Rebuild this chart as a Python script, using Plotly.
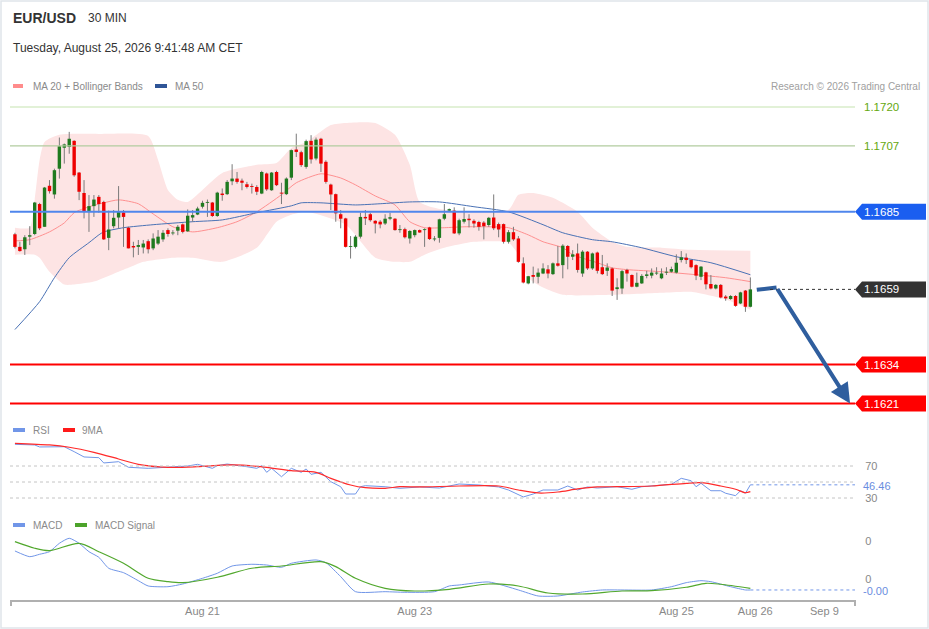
import plotly.graph_objects as go

# ============================================================
# Data (30 min candles)
# ============================================================
open_ = [
    1.16775, 1.16733, 1.16725, 1.16767, 1.16776, 1.16876, 1.16800, 1.16937, 1.16908, 1.16994,
    1.17064, 1.17067, 1.17087, 1.16981, 1.16913, 1.16853, 1.16869, 1.16900, 1.16883, 1.16763,
    1.16802, 1.16831, 1.16848, 1.16797, 1.16736, 1.16733, 1.16731, 1.16752, 1.16728, 1.16744,
    1.16758, 1.16789, 1.16778, 1.16787, 1.16808, 1.16785, 1.16831, 1.16841, 1.16867, 1.16880,
    1.16881, 1.16836, 1.16911, 1.16909, 1.16952, 1.16961, 1.16954, 1.16942, 1.16936, 1.16933,
    1.16911, 1.16978, 1.16922, 1.16983, 1.16914, 1.16909, 1.16964, 1.17058, 1.17049, 1.17000,
    1.17087, 1.17028, 1.17094, 1.17017, 1.16941, 1.16909, 1.16842, 1.16828, 1.16733, 1.16733,
    1.16767, 1.16833, 1.16842, 1.16820, 1.16817, 1.16811, 1.16827, 1.16827, 1.16789, 1.16792,
    1.16761, 1.16772, 1.16789, 1.16789, 1.16798, 1.16758, 1.16763, 1.16827, 1.16854, 1.16854,
    1.16778, 1.16817, 1.16827, 1.16820, 1.16816, 1.16814, 1.16806, 1.16831, 1.16809, 1.16809,
    1.16750, 1.16782, 1.16761, 1.16678, 1.16611, 1.16639, 1.16633, 1.16644, 1.16658, 1.16642,
    1.16678, 1.16672, 1.16736, 1.16700, 1.16711, 1.16644, 1.16717, 1.16661, 1.16714, 1.16665,
    1.16653, 1.16661, 1.16592, 1.16594, 1.16656, 1.16639, 1.16600, 1.16611, 1.16636, 1.16637,
    1.16644, 1.16628, 1.16647, 1.16650, 1.16647, 1.16689, 1.16697, 1.16689, 1.16672, 1.16633,
    1.16648, 1.16609, 1.16594, 1.16606, 1.16567, 1.16559, 1.16569, 1.16544, 1.16587, 1.16533,
]
high = [
    1.16780, 1.16750, 1.16772, 1.16802, 1.16883, 1.16880, 1.16933, 1.16956, 1.16994, 1.17098,
    1.17078, 1.17117, 1.17089, 1.16983, 1.16956, 1.16906, 1.16906, 1.16906, 1.16887, 1.16854,
    1.16856, 1.16936, 1.16856, 1.16800, 1.16750, 1.16756, 1.16756, 1.16758, 1.16778, 1.16789,
    1.16789, 1.16795, 1.16789, 1.16806, 1.16811, 1.16858, 1.16856, 1.16867, 1.16887, 1.16891,
    1.16883, 1.16917, 1.16928, 1.16956, 1.17009, 1.16983, 1.16961, 1.16950, 1.16944, 1.16939,
    1.16987, 1.16981, 1.16983, 1.16987, 1.16947, 1.16965, 1.17058, 1.17111, 1.17054, 1.17091,
    1.17106, 1.17098, 1.17097, 1.17022, 1.16944, 1.16911, 1.16856, 1.16830, 1.16769, 1.16772,
    1.16847, 1.16856, 1.16847, 1.16822, 1.16822, 1.16842, 1.16847, 1.16829, 1.16806, 1.16797,
    1.16789, 1.16791, 1.16791, 1.16795, 1.16800, 1.16769, 1.16827, 1.16876, 1.16861, 1.16865,
    1.16827, 1.16865, 1.16842, 1.16825, 1.16820, 1.16819, 1.16833, 1.16908, 1.16814, 1.16811,
    1.16789, 1.16800, 1.16769, 1.16698, 1.16636, 1.16667, 1.16661, 1.16678, 1.16672, 1.16681,
    1.16736, 1.16742, 1.16739, 1.16722, 1.16744, 1.16722, 1.16719, 1.16714, 1.16717, 1.16706,
    1.16678, 1.16664, 1.16628, 1.16656, 1.16660, 1.16641, 1.16647, 1.16642, 1.16653, 1.16661,
    1.16665, 1.16661, 1.16665, 1.16667, 1.16708, 1.16719, 1.16711, 1.16691, 1.16675, 1.16669,
    1.16650, 1.16639, 1.16609, 1.16609, 1.16572, 1.16572, 1.16572, 1.16583, 1.16589, 1.16631,
]
low = [
    1.16728, 1.16717, 1.16706, 1.16739, 1.16772, 1.16789, 1.16800, 1.16911, 1.16894, 1.16961,
    1.17011, 1.17044, 1.16967, 1.16889, 1.16828, 1.16783, 1.16833, 1.16847, 1.16756, 1.16722,
    1.16795, 1.16795, 1.16733, 1.16728, 1.16698, 1.16706, 1.16711, 1.16711, 1.16722, 1.16739,
    1.16750, 1.16767, 1.16772, 1.16772, 1.16778, 1.16783, 1.16817, 1.16839, 1.16861, 1.16833,
    1.16833, 1.16833, 1.16887, 1.16906, 1.16939, 1.16944, 1.16922, 1.16928, 1.16911, 1.16906,
    1.16909, 1.16920, 1.16920, 1.16936, 1.16876, 1.16906, 1.16956, 1.17033, 1.17000, 1.16994,
    1.17011, 1.17022, 1.16983, 1.16944, 1.16856, 1.16817, 1.16795, 1.16731, 1.16694, 1.16728,
    1.16761, 1.16806, 1.16817, 1.16778, 1.16795, 1.16806, 1.16822, 1.16787, 1.16780, 1.16761,
    1.16744, 1.16765, 1.16780, 1.16733, 1.16756, 1.16752, 1.16747, 1.16822, 1.16850, 1.16776,
    1.16772, 1.16811, 1.16798, 1.16797, 1.16787, 1.16758, 1.16800, 1.16789, 1.16765, 1.16744,
    1.16744, 1.16753, 1.16680, 1.16611, 1.16608, 1.16611, 1.16611, 1.16642, 1.16628, 1.16639,
    1.16667, 1.16628, 1.16658, 1.16689, 1.16647, 1.16633, 1.16656, 1.16656, 1.16644, 1.16639,
    1.16636, 1.16569, 1.16556, 1.16576, 1.16617, 1.16598, 1.16598, 1.16609, 1.16628, 1.16628,
    1.16639, 1.16625, 1.16639, 1.16647, 1.16644, 1.16681, 1.16676, 1.16661, 1.16622, 1.16622,
    1.16591, 1.16591, 1.16591, 1.16561, 1.16553, 1.16556, 1.16533, 1.16542, 1.16516, 1.16531,
]
close = [
    1.16733, 1.16719, 1.16765, 1.16772, 1.16881, 1.16795, 1.16931, 1.16919, 1.16989, 1.17069,
    1.17075, 1.17094, 1.16972, 1.16917, 1.16850, 1.16869, 1.16891, 1.16876, 1.16758, 1.16791,
    1.16830, 1.16849, 1.16833, 1.16728, 1.16731, 1.16739, 1.16744, 1.16725, 1.16761, 1.16767,
    1.16780, 1.16776, 1.16781, 1.16800, 1.16783, 1.16837, 1.16839, 1.16861, 1.16880, 1.16883,
    1.16836, 1.16914, 1.16906, 1.16950, 1.16961, 1.16950, 1.16947, 1.16933, 1.16933, 1.16917,
    1.16983, 1.16925, 1.16981, 1.16939, 1.16911, 1.16961, 1.17056, 1.17050, 1.17006, 1.17086,
    1.17025, 1.17091, 1.17011, 1.16950, 1.16908, 1.16845, 1.16827, 1.16733, 1.16736, 1.16767,
    1.16833, 1.16828, 1.16822, 1.16811, 1.16808, 1.16827, 1.16832, 1.16789, 1.16792, 1.16765,
    1.16786, 1.16789, 1.16781, 1.16792, 1.16759, 1.16761, 1.16825, 1.16842, 1.16859, 1.16778,
    1.16822, 1.16826, 1.16822, 1.16811, 1.16800, 1.16802, 1.16830, 1.16795, 1.16791, 1.16750,
    1.16782, 1.16758, 1.16683, 1.16614, 1.16635, 1.16633, 1.16647, 1.16661, 1.16644, 1.16678,
    1.16670, 1.16737, 1.16700, 1.16708, 1.16656, 1.16717, 1.16661, 1.16711, 1.16653, 1.16642,
    1.16664, 1.16587, 1.16598, 1.16652, 1.16644, 1.16600, 1.16613, 1.16636, 1.16641, 1.16647,
    1.16647, 1.16644, 1.16650, 1.16659, 1.16680, 1.16698, 1.16689, 1.16665, 1.16637, 1.16667,
    1.16608, 1.16594, 1.16606, 1.16564, 1.16561, 1.16569, 1.16536, 1.16581, 1.16533, 1.16591,
]
idx = list(range(len(close)))

# Bollinger bands / moving averages (sampled at candle index)
bb_up_x = [0, 3, 4, 5, 6, 9, 17, 27, 29, 31, 33, 35, 42, 49, 53, 56, 59, 64, 67, 73,
           77, 80, 82, 87, 100, 102, 105, 109, 111, 114, 117, 121, 124, 131, 137, 149]
bb_up = [1.16797, 1.16797, 1.16890, 1.17023, 1.17083, 1.17107, 1.17110, 1.17103, 1.17023, 1.16923,
         1.16890, 1.16883, 1.16980, 1.17007, 1.17013, 1.17063, 1.17083, 1.17140, 1.17147, 1.17147,
         1.17107, 1.17007, 1.16883, 1.16857, 1.16857, 1.16907, 1.16913, 1.16897, 1.16880, 1.16850,
         1.16797, 1.16750, 1.16733, 1.16730, 1.16723, 1.16720]
bb_lo_x = [0, 4, 5, 7, 10, 12, 16, 21, 23, 26, 32, 36, 42, 49, 53, 56, 59, 67, 73, 77,
           80, 83, 87, 93, 100, 102, 104, 107, 111, 121, 131, 137, 144, 149]
bb_lo = [1.16707, 1.16707, 1.16697, 1.16650, 1.16607, 1.16607, 1.16617, 1.16650, 1.16663, 1.16683,
         1.16697, 1.16697, 1.16683, 1.16730, 1.16817, 1.16840, 1.16850, 1.16807, 1.16697, 1.16683,
         1.16683, 1.16707, 1.16730, 1.16750, 1.16747, 1.16707, 1.16630, 1.16597, 1.16573, 1.16573,
         1.16580, 1.16583, 1.16557, 1.16523]
ma20_x = [0, 3, 7, 10, 12, 15, 18, 21, 25, 28, 32, 36, 41, 45, 49, 54, 57, 62, 66, 69,
          73, 77, 80, 83, 87, 91, 96, 100, 104, 107, 111, 113, 118, 121, 124, 131, 138, 144, 149]
ma20 = [1.16753, 1.16757, 1.16783, 1.16813, 1.16847, 1.16867, 1.16880, 1.16890, 1.16877, 1.16843,
        1.16800, 1.16783, 1.16797, 1.16817, 1.16850, 1.16907, 1.16947, 1.16977, 1.16963, 1.16940,
        1.16903, 1.16873, 1.16817, 1.16797, 1.16797, 1.16800, 1.16800, 1.16797, 1.16773, 1.16750,
        1.16730, 1.16707, 1.16680, 1.16663, 1.16657, 1.16650, 1.16640, 1.16630, 1.16617]
ma50_x = [0, 5, 8, 11, 15, 17, 18, 22, 28, 36, 42, 49, 56, 58, 62, 69, 74, 80, 86, 93,
          100, 107, 111, 117, 121, 127, 134, 141, 149]
ma50 = [1.16457, 1.16550, 1.16630, 1.16697, 1.16747, 1.16773, 1.16783, 1.16797, 1.16807, 1.16817,
        1.16823, 1.16847, 1.16870, 1.16880, 1.16880, 1.16873, 1.16877, 1.16883, 1.16883, 1.16867,
        1.16850, 1.16807, 1.16780, 1.16757, 1.16750, 1.16730, 1.16700, 1.16680, 1.16640]

# RSI + 9MA
rsi_x = [0, 4, 5, 10, 12, 14, 17, 18, 21, 23, 27, 31, 35, 37, 40, 41, 43, 47, 49, 50,
         51, 52, 54, 56, 58, 59, 60, 62, 64, 66, 67, 69, 70, 71, 75, 78, 82, 86, 90, 94,
         98, 100, 103, 105, 107, 110, 112, 114, 116, 118, 122, 125, 127, 133, 135, 137, 138, 139, 141, 143,
         144, 146, 147, 148, 149]
rsi = [97.1, 96.3, 93.8, 94.1, 87.9, 81.3, 80.4, 73.8, 75.4, 68.4, 67.1, 68.4, 70.0, 72.1, 67.1, 70.4, 72.5, 69.1, 67.1, 70.4,
       62.1, 67.1, 56.6, 67.1, 62.1, 66.3, 59.6, 62.1, 50.4, 44.1, 35.0, 35.0, 44.1, 45.4, 44.1, 42.1, 43.8, 42.5, 47.5, 46.3,
       43.8, 40.0, 31.3, 35.0, 40.0, 40.0, 45.0, 40.0, 43.8, 42.5, 44.1, 40.9, 44.1, 47.1, 54.6, 51.6, 44.1, 48.4, 39.1, 39.1,
       35.9, 32.9, 39.1, 35.9, 46.46]
rsi_ma_x = [0, 7, 11, 16, 21, 25, 31, 37, 44, 51, 56, 61, 64, 68, 71, 75, 78, 82, 90, 98,
            102, 106, 110, 114, 118, 122, 129, 136, 139, 143, 146, 148, 149]
rsi_ma = [98.4, 96.3, 93.4, 87.1, 78.8, 72.1, 68.4, 69.1, 71.3, 68.4, 64.1, 62.1, 54.6, 46.3, 42.9, 42.1, 44.1, 43.8, 45.0, 45.0,
          40.0, 36.3, 37.5, 41.3, 43.8, 44.1, 45.0, 48.4, 49.1, 45.0, 40.9, 36.6, 37.9]

# MACD + signal
macd_x = [0, 3, 5, 7, 9, 11, 13, 15, 17, 19, 22, 25, 27, 31, 34, 38, 41, 44, 48, 51,
          54, 56, 61, 63, 66, 69, 75, 79, 85, 88, 90, 96, 102, 106, 110, 115, 119, 123, 129, 133,
          136, 139, 141, 145, 148, 149]
macd = [0.000737, 0.000587, 0.000650, 0.000718, 0.000939, 0.001071, 0.000939, 0.000718, 0.000571, 0.000282,
        0.000166, -0.000045, -0.000184, -0.000203, -0.000132, 0.000018, 0.000150, 0.000342, 0.000387, 0.000368,
        0.000308, 0.000413, 0.000500, 0.000429, 0.000061, -0.000334, -0.000334, -0.000350, -0.000334, -0.000184,
        -0.000158, -0.000079, -0.000289, -0.000447, -0.000447, -0.000342, -0.000289, -0.000289, -0.000289, -0.000203,
        -0.000097, -0.000045, -0.000071, -0.000203, -0.000289, -0.000289]
signal_x = [0, 4, 7, 13, 17, 22, 27, 31, 34, 41, 48, 54, 62, 65, 69, 75, 81, 88, 96, 102,
            108, 115, 123, 129, 136, 140, 143, 149]
signal = [0.000982, 0.000808, 0.000745, 0.000939, 0.000718, 0.000413, 0.000018, -0.000071, -0.000097, 0.000045,
          0.000282, 0.000342, 0.000455, 0.000324, 0.000018, -0.000245, -0.000316, -0.000271, -0.000132, -0.000184,
          -0.000368, -0.000395, -0.000316, -0.000308, -0.000218, -0.000113, -0.000139, -0.000245]

# key levels
resistances = [1.1720, 1.1707]
pivot = 1.1685
supports = [1.1634, 1.1621]

# forecast arrow (candle index, price)
forecast_x = [150.3, 154.3, 169.2]
forecast_y = [1.1659, 1.16597, 1.1621]

tick_vals = [38, 81, 134, 150, 164]
tick_text = ['Aug 21', 'Aug 23', 'Aug 25', 'Aug 26', 'Sep 9']

# ============================================================
# Layout helpers (pixel -> paper)
# ============================================================
W, H = 929, 629
L, R, T, B = 10, 74, 97, 29
PW, PH = W - L - R, H - T - B


def px(v):
    return (v - L) / PW


def py(v):
    return (H - B - v) / PH


X_RANGE = [-1.0, 170.2]
Y_MAIN = [1.161716, 1.172334]
Y_RSI = [15, 102.5]
Y_MACD = [-0.000553, 0.001289]
price_per_px = (Y_MAIN[1] - Y_MAIN[0]) / (415 - 97)

FONT = 'Liberation Sans, Arial, sans-serif'
GREEN_C = '#1f7a1f'
RED_C = '#ee0000'
BLUE_L = '#7196e8'

fig = go.Figure()

# ---- Bollinger band + MAs ----
fig.add_trace(go.Scatter(x=bb_up_x, y=bb_up, mode='lines', line=dict(width=0, shape='spline', smoothing=0.6),
                         hoverinfo='skip'))
fig.add_trace(go.Scatter(x=bb_lo_x, y=bb_lo, mode='lines', line=dict(width=0, shape='spline', smoothing=0.6),
                         fill='tonexty', fillcolor='#fde4e4', hoverinfo='skip'))
fig.add_trace(go.Scatter(x=ma20_x, y=ma20, mode='lines',
                         line=dict(color='#ff9090', width=1, shape='spline', smoothing=0.6)))
fig.add_trace(go.Scatter(x=ma50_x, y=ma50, mode='lines',
                         line=dict(color='#4a72b5', width=1, shape='spline', smoothing=0.6)))

# ---- candles: wicks then bodies ----
wx, wy = [], []
for k in idx:
    wx += [k, k, None]
    wy += [low[k], high[k], None]
fig.add_trace(go.Scatter(x=wx, y=wy, mode='lines', line=dict(color='#7a7a7a', width=1), hoverinfo='skip'))

for up, col in [(True, GREEN_C), (False, RED_C)]:
    bx, by = [], []
    for k in idx:
        if (close[k] >= open_[k]) == up:
            bx += [k, k, None]
            by += [open_[k], close[k], None]
    fig.add_trace(go.Scatter(x=bx, y=by, mode='lines', line=dict(color=col, width=3.4), hoverinfo='skip'))

# ---- forecast arrow ----
ARROW_C = '#2f5e9e'
fig.add_trace(go.Scatter(x=forecast_x[:2], y=forecast_y[:2], mode='lines',
                         line=dict(color=ARROW_C, width=4)))
fig.add_annotation(x=forecast_x[2], y=forecast_y[2], ax=forecast_x[1], ay=forecast_y[1],
                   xref='x', yref='y', axref='x', ayref='y', text='', showarrow=True,
                   arrowhead=2, arrowsize=1, arrowwidth=4, arrowcolor=ARROW_C)

# ---- RSI ----
fig.add_trace(go.Scatter(x=rsi_x, y=rsi, yaxis='y2', mode='lines', line=dict(color=BLUE_L, width=1)))
fig.add_trace(go.Scatter(x=rsi_ma_x, y=rsi_ma, yaxis='y2', mode='lines',
                         line=dict(color='#ff2a2a', width=1.2, shape='spline', smoothing=0.8)))

# ---- MACD ----
fig.add_trace(go.Scatter(x=macd_x, y=macd, yaxis='y3', mode='lines',
                         line=dict(color=BLUE_L, width=1, shape='spline', smoothing=0.6)))
fig.add_trace(go.Scatter(x=signal_x, y=signal, yaxis='y3', mode='lines',
                         line=dict(color='#52a82e', width=1.2, shape='spline', smoothing=0.8)))

shapes = []
annotations = []

# level lines
for v, col in zip(resistances, ['#c6e3b0', '#b2cc9f']):
    shapes.append(dict(type='line', xref='paper', yref='y', x0=0, x1=1, y0=v, y1=v,
                       line=dict(color=col, width=1.2)))
    annotations.append(dict(x=px(862), y=v, xref='paper', yref='y', text=f'{v:.4f}', showarrow=False,
                            xanchor='left', font=dict(color='#66a80f', size=11.5)))
shapes.append(dict(type='line', xref='paper', yref='y', x0=0, x1=1, y0=pivot, y1=pivot,
                   line=dict(color='#4f86ec', width=2)))
for v in supports:
    shapes.append(dict(type='line', xref='paper', yref='y', x0=0, x1=1, y0=v, y1=v,
                       line=dict(color='#ff0000', width=2)))
last = close[-1]
shapes.append(dict(type='line', xref='paper', yref='y', x0=px(770), x1=1, y0=last, y1=last,
                   line=dict(color='#333333', width=1, dash='dot')))

# boxed labels
hh = 8 * price_per_px
for v, col in [(pivot, '#1a5ef0'), (last, '#333333'), (supports[0], '#ff0000'), (supports[1], '#ff0000')]:
    path = (f'M {px(855)},{v} L {px(862)},{v + hh} L {px(926)},{v + hh} '
            f'L {px(926)},{v - hh} L {px(862)},{v - hh} Z')
    shapes.append(dict(type='path', xref='paper', yref='y', path=path, fillcolor=col, line=dict(width=0)))
    annotations.append(dict(x=px(862), y=v, xref='paper', yref='y', text=f'{v:.4f}', showarrow=False,
                            xanchor='left', font=dict(color='white', size=11.5)))

# RSI guide lines
for v in [70, 50, 30]:
    shapes.append(dict(type='line', xref='paper', yref='y2', x0=0, x1=1, y0=v, y1=v,
                       line=dict(color='#c4c4c4', width=1, dash='dot')))
shapes.append(dict(type='line', xref='x', yref='y2', x0=rsi_x[-1], x1=X_RANGE[1], y0=rsi[-1], y1=rsi[-1],
                   line=dict(color=BLUE_L, width=1, dash='dot')))
shapes.append(dict(type='line', xref='x', yref='y3', x0=macd_x[-1], x1=X_RANGE[1], y0=macd[-1], y1=macd[-1],
                   line=dict(color=BLUE_L, width=1, dash='dot')))
annotations.append(dict(x=px(861), y=rsi[-1], xref='paper', yref='y2', text=f'{rsi[-1]:.2f}', showarrow=False,
                        xanchor='left', yshift=-1, font=dict(color='#6a8de0', size=11)))
annotations.append(dict(x=px(861), y=macd[-1], xref='paper', yref='y3', text=f'{macd[-1]:.2f}', showarrow=False,
                        xanchor='left', yshift=-1, font=dict(color='#6a8de0', size=11)))

# x axis end ticks
for xp in [11, 855]:
    shapes.append(dict(type='line', xref='paper', yref='paper', x0=px(xp), x1=px(xp), y0=py(600), y1=py(606),
                       line=dict(color='#b0b0b0', width=2)))

# outer frame
shapes.append(dict(type='rect', xref='paper', yref='paper', x0=px(1), x1=px(928), y0=py(628), y1=py(1),
                   line=dict(color='#dfe5ea', width=1.5)))

# header texts
annotations += [
    dict(x=px(11), y=py(18), text='<b>EUR/USD</b>', font=dict(size=14, color='#333333')),
    dict(x=px(86), y=py(18), text='30 MIN', font=dict(size=12, color='#333333')),
    dict(x=px(11), y=py(48), text='Tuesday, August 25, 2026 9:41:48 AM CET', font=dict(size=12, color='#333333')),
    dict(x=px(922), y=py(86), text='Research © 2026 Trading Central', xanchor='right',
         font=dict(size=10, color='#a0a0a0')),
]
for a in annotations[-4:]:
    a.update(xref='paper', yref='paper', showarrow=False)
    a.setdefault('xanchor', 'left')

# legends
legend_items = [
    (86, 13, 23, '#ff8c8c', 31, 'MA 20 + Bollinger Bands'),
    (86, 155, 167, '#2f5597', 173, 'MA 50'),
    (430, 13, 25, BLUE_L, 31, 'RSI'),
    (430, 63, 75, '#ff1a1a', 80, '9MA'),
    (525, 13, 25, BLUE_L, 31, 'MACD'),
    (525, 75, 87, '#4ca32a', 93, 'MACD Signal'),
]
for yy, s0, s1, col, tx, label in legend_items:
    shapes.append(dict(type='rect', xref='paper', yref='paper', x0=px(s0), x1=px(s1),
                       y0=py(yy + 2), y1=py(yy - 2), fillcolor=col, line=dict(width=0)))
    annotations.append(dict(x=px(tx), y=py(yy), xref='paper', yref='paper', text=label, showarrow=False,
                            xanchor='left', font=dict(size=10, color='#8a8a8a')))

fig.update_layout(
    width=W, height=H,
    margin=dict(l=L, r=R, t=T, b=B),
    paper_bgcolor='white', plot_bgcolor='white',
    showlegend=False,
    font=dict(family=FONT, color='#888888'),
    shapes=shapes,
    xaxis=dict(range=X_RANGE, anchor='y3', showgrid=False, zeroline=False, showline=True,
               linecolor='#b0b0b0', linewidth=2, tickvals=tick_vals, ticktext=tick_text, ticks='',
               tickfont=dict(size=11, color='#888888')),
    yaxis=dict(domain=[py(415), 1], range=Y_MAIN, showgrid=False, zeroline=False, showticklabels=False),
    yaxis2=dict(domain=[py(510), py(440)], range=Y_RSI, anchor='x', side='right', showgrid=False,
                zeroline=False, tickvals=[30, 70], ticks='outside', ticklen=7,
                tickcolor='rgba(0,0,0,0)', tickfont=dict(size=11, color='#888888')),
    yaxis3=dict(domain=[0, py(530)], range=Y_MACD, anchor='x', side='right', showgrid=False,
                zeroline=False, tickvals=[0.001, 0], tickformat='.0f', ticks='outside', ticklen=7,
                tickcolor='rgba(0,0,0,0)', tickfont=dict(size=11, color='#888888')),
)
for a in annotations:
    a.setdefault('yanchor', 'middle')
    fig.add_annotation(**a)

# page body without default margin so the 929x629 figure fills the window
fig.write_html("out.html", config={'displayModeBar': False},
               post_script="document.body.style.margin='0';")
